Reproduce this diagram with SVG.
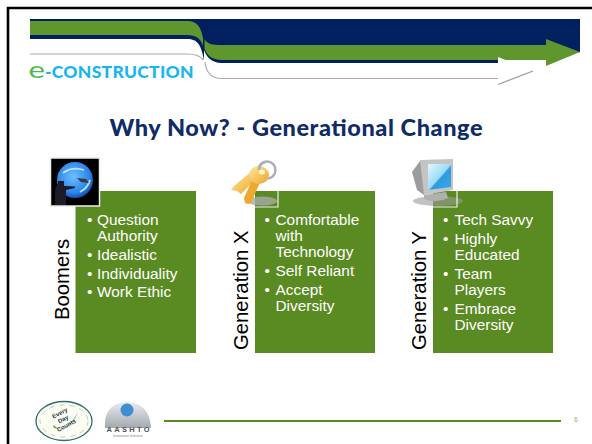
<svg xmlns="http://www.w3.org/2000/svg" width="592" height="444" viewBox="0 0 592 444">
<defs>
<radialGradient id="globe" cx=".45" cy=".4" r=".65"><stop offset="0" stop-color="#6fc0ff"/><stop offset=".7" stop-color="#2a84ea"/><stop offset="1" stop-color="#0f3f9a"/></radialGradient>
<linearGradient id="gold" x1="0" y1="0" x2="1" y2="1"><stop offset="0" stop-color="#fde9a0"/><stop offset="1" stop-color="#eda528"/></linearGradient>
<linearGradient id="screen" x1="0" y1="0" x2="1" y2="1"><stop offset="0" stop-color="#e4f6fd"/><stop offset=".5" stop-color="#9bdcf6"/><stop offset=".55" stop-color="#2f9be0"/><stop offset="1" stop-color="#3aa4e6"/></linearGradient>
<linearGradient id="dome" x1="0" y1="0" x2="0" y2="1"><stop offset="0" stop-color="#e8ecf2"/><stop offset="1" stop-color="#a4a9b0"/></linearGradient>
</defs>
<style>
.box{fill:#5a8a22}
.b{font:15.4px "Liberation Sans",Arial,sans-serif;fill:#fff}
.v{font:20.3px "Liberation Sans",Arial,sans-serif;fill:#000}
.corner{stroke:#eef0ea;stroke-width:1.200;fill:none}
</style>
<rect width="592" height="444" fill="#fff"/>
<path d="M8 444V8H592" fill="none" stroke="#000" stroke-width="2.600"/>
<g id="banner">
<path d="M30 19H580V52L546 60H498V63H222C211 63 206 56 204 50V60C201 45 198 39 187 39H30Z" fill="#002060"/>
<path d="M30 21H187C198 21 201 28 203 38V46C201 40 198 35 187 35H30Z" fill="#5f962e"/>
<path d="M204.500 39C207 44 212 45 222 45H546V39L580 52L546 66V60H222C212 60 206 55 204.500 48Z" fill="#5f962e"/>
<path d="M30 54H188C197 54 201 57 203.500 60" fill="none" stroke="#aaa" stroke-width="1.200"/>
<path d="M205 62C206 72 211 78.500 222 78.500H498" fill="none" stroke="#aaa" stroke-width="1.200"/>
<path d="M498 57L533 71L498 85V78H400V63.500H498Z" fill="#fff"/>
<path d="M498 84.500L533 71" stroke="#999" stroke-width="1.200" fill="none"/>
<text transform="translate(28.500 78) scale(1.300 1)" font-family="Lato,'Liberation Sans',sans-serif" font-size="24" fill="#4cbb4c">e</text>
<text x="45" y="77.500" font-family="Lato,'Liberation Sans',sans-serif" font-size="17.500" font-weight="900" fill="#19b5f1" textLength="148.500">-CONSTRUCTION</text>
</g>
<text id="title" x="296" y="136" text-anchor="middle" font-family="Lato,'Liberation Sans',sans-serif" font-size="23.500" font-weight="900" fill="#0f2c66" textLength="373">Why Now? - Generational Change</text>
<g id="boomers">
<rect class="box" x="75.500" y="191" width="120.500" height="162"/>
<text class="v" transform="translate(69 320) rotate(-90)">Boomers</text>
<rect x="50.500" y="158" width="49" height="48" fill="#000" stroke="#eee" stroke-width="1.500"/>
<circle cx="75" cy="180" r="18" fill="url(#globe)"/>
<path d="M63 173Q72 166 84 170M80 192Q88 188 90 180" stroke="#bfe2ff" stroke-width="1.800" fill="none"/>
<path d="M58 181H64V186H66L75 186.500V188L66 190V205H55V192L56 186H58Z" fill="#1c1c28"/>
<path d="M77 178L86 179L89 183L81 182Z" fill="#333a44"/>
<text class="b"><tspan x="87" y="225">•</tspan><tspan x="97" y="225">Question</tspan><tspan x="97" y="241">Authority</tspan><tspan x="87" y="260">•</tspan><tspan x="97" y="260">Idealistic</tspan><tspan x="87" y="279">•</tspan><tspan x="97" y="279">Individuality</tspan><tspan x="87" y="297">•</tspan><tspan x="97" y="297">Work Ethic</tspan></text>
</g>
<g id="generation-x">
<rect class="box" x="255" y="191" width="120" height="162"/>
<text class="v" transform="translate(248 350) rotate(-90)">Generation X</text>
<ellipse cx="262" cy="201" rx="15" ry="4.500" fill="#a9a9a9" opacity=".8"/>
<path class="corner" d="M278 191V207H255"/>
<circle cx="267" cy="170" r="8.500" fill="none" stroke="#aab0b8" stroke-width="2.500"/>
<path d="M231 190L234 186L252 171L257 178L241 194L237 191Z" fill="url(#gold)"/>
<path d="M245 203L244 198L254 176L261 180L251 203L248 204Z" fill="#eda92e"/>
<ellipse cx="259" cy="175" rx="10" ry="9" fill="url(#gold)"/>
<ellipse cx="262" cy="172" rx="3" ry="2.500" fill="#fff3c4"/>
<path d="M265 162A8.500 8.500 0 0 0 259 170" fill="none" stroke="#aab0b8" stroke-width="2.500"/>
<text class="b"><tspan x="264.500" y="225">•</tspan><tspan x="275.500" y="225">Comfortable</tspan><tspan x="275.500" y="241">with</tspan><tspan x="275.500" y="257">Technology</tspan><tspan x="264.500" y="276">•</tspan><tspan x="275.500" y="276">Self Reliant</tspan><tspan x="264.500" y="295">•</tspan><tspan x="275.500" y="295">Accept</tspan><tspan x="275.500" y="311">Diversity</tspan></text>
</g>
<g id="generation-y">
<rect class="box" x="433" y="191" width="120" height="162"/>
<text class="v" transform="translate(426 350) rotate(-90)">Generation Y</text>
<ellipse cx="438" cy="201" rx="25" ry="5" fill="#999" opacity=".6"/>
<path class="corner" d="M457 191V207H433"/>
<path d="M412 172L420 161L424 160V195L417 190Z" fill="#9c9c9c"/>
<path d="M420 160L453 159V190L424 195Z" fill="#c4c4c4"/>
<path d="M428 164H451V187L428 190Z" fill="url(#screen)"/>
<path d="M424 195L446 192L448 198Q436 204 424 199Z" fill="#b0b0b0"/>
<text class="b"><tspan x="443" y="225">•</tspan><tspan x="454.500" y="225">Tech Savvy</tspan><tspan x="443" y="244">•</tspan><tspan x="454.500" y="244">Highly</tspan><tspan x="454.500" y="260">Educated</tspan><tspan x="443" y="279">•</tspan><tspan x="454.500" y="279">Team</tspan><tspan x="454.500" y="295">Players</tspan><tspan x="443" y="314">•</tspan><tspan x="454.500" y="314">Embrace</tspan><tspan x="454.500" y="330">Diversity</tspan></text>
</g>
<g id="footer">
<ellipse cx="64" cy="421" rx="28" ry="19.500" fill="#fbfcf4" stroke="#2f6f6a" stroke-width="1.300"/>
<ellipse cx="64" cy="421" rx="24" ry="16" fill="none" stroke="#a5bd90" stroke-width="1" stroke-dasharray="5 5" opacity=".7"/>
<path d="M53 425Q65 436 78 412Q70 432 54 428Z" fill="#6a9a3c"/>
<text transform="rotate(-28 64 421)" x="64" y="414" text-anchor="middle" font-family="'Liberation Sans',sans-serif" font-size="6" font-weight="700" fill="#2a3a40">Every</text>
<text transform="rotate(-28 64 421)" x="64" y="421" text-anchor="middle" font-family="'Liberation Sans',sans-serif" font-size="6" font-weight="700" fill="#2a3a40">Day</text>
<text transform="rotate(-28 64 421)" x="64" y="428" text-anchor="middle" font-family="'Liberation Sans',sans-serif" font-size="6" font-weight="700" fill="#2a3a40">Counts</text>
<path d="M105 428V421C106 409 115 402 127 402C140 402 150 410 151 428Z" fill="url(#dome)"/>
<circle cx="127" cy="410" r="6.500" fill="#3f8fd0"/>
<text x="128" y="431.500" text-anchor="middle" font-family="'Liberation Sans',sans-serif" font-size="7.500" font-weight="700" fill="#555" textLength="43">AASHTO</text>
<text x="128" y="436.500" text-anchor="middle" font-family="'Liberation Sans',sans-serif" font-size="3.500" fill="#888">Innovation Initiative</text>
<path d="M164 421H561" stroke="#5a8a22" stroke-width="2"/>
<text x="576" y="422" text-anchor="middle" font-family="'Liberation Sans',sans-serif" font-size="7" fill="#8fb566">6</text>
</g>
</svg>
